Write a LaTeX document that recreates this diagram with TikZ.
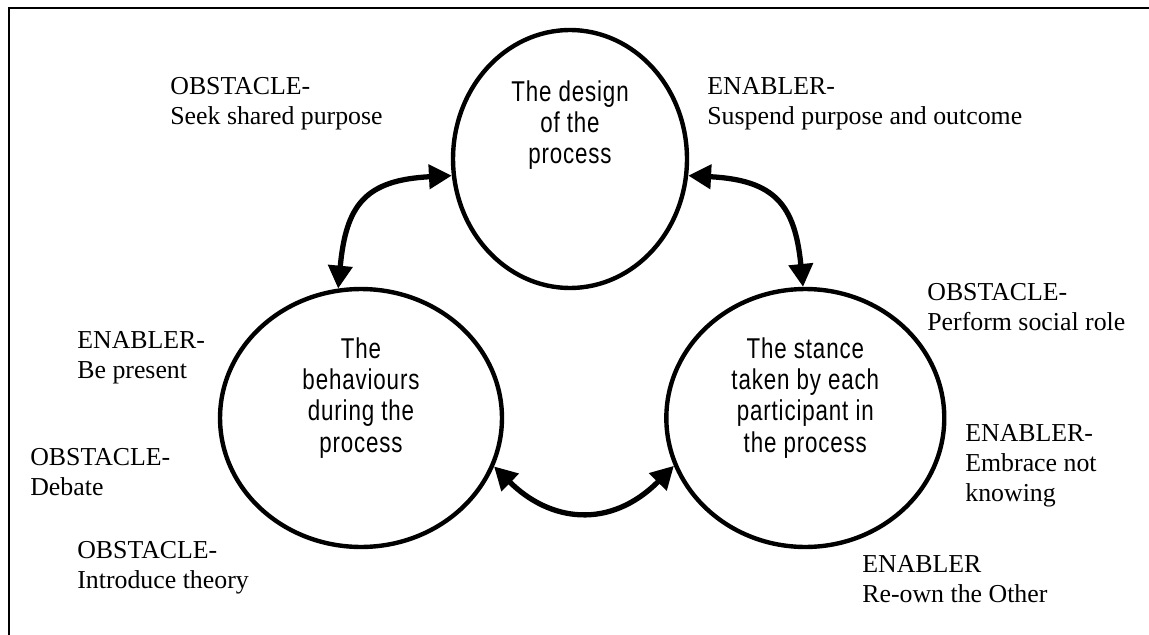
\documentclass[tikz,border=0pt]{standalone}
\usepackage{fontspec}
\setmainfont{Liberation Serif}
\newfontfamily\ringfont[FakeStretch=0.78,LetterSpace=3]{Liberation Sans}
\usepackage{tikz}
\usetikzlibrary{shapes.geometric,arrows.meta,positioning,calc}

\begin{document}
\begin{tikzpicture}[x=0.02cm, y=-0.02cm, >={Triangle[length=13pt,width=13.5pt]},
    ring/.style={draw=black, line width=2.5pt, ellipse, inner sep=0pt, minimum height=5.16cm},
    ringtext/.style={align=center, inner sep=0pt, font=\ringfont\fontsize{16.3}{17.7}\selectfont},
    note/.style={anchor=north west, align=left, inner sep=0pt, font=\fontsize{14.7}{17.2}\selectfont},
    link/.style={<->, line width=3pt}]
    \useasboundingbox (0,0) rectangle (1149,635);
    \clip (0,0) rectangle (1149,635);
    \draw [line width=1.1pt] (9,650) -- (9,8) -- (1160,8);

    % Circles
    \node [ring, minimum width=4.68cm] (design) at (570,159) {};
    \node [ring, minimum width=5.64cm] (behaviours) at (361,418) {};
    \node [ring, minimum width=5.56cm, right=3.2cm of behaviours] (stance) {};

    \node [ringtext] (designtxt) at ([yshift=0.68cm]design.center) {The design\\of the\\process};
    \node [ringtext] (behaviourstxt) at ([yshift=0.4cm]behaviours.center) {The\\behaviours\\during the\\process};
    \node [ringtext] (stancetxt) at ([yshift=0.4cm]stance.center) {The stance\\taken by each\\participant in\\the process};

    % Obstacles and enablers
    \node [note] (seek) at (170,77) {OBSTACLE-\\Seek shared purpose};
    \node [note] (suspend) at (707,77) {ENABLER-\\Suspend purpose and outcome};
    \node [note] (perform) at (927,283) {OBSTACLE-\\Perform social role};
    \node [note] (embrace) at (965,424) {ENABLER-\\Embrace not\\knowing};
    \node [note] (reown) at (862,555) {ENABLER\\Re-own the Other};
    \node [note] (present) at (77,331) {ENABLER-\\Be present};
    \node [note] (debate) at (30,448) {OBSTACLE-\\Debate};
    \node [note] (theory) at (77,541) {OBSTACLE-\\Introduce theory};

    % Two-way links
    \draw [link] (behaviours.100) .. controls (346,205) and (365,180) .. (design.188);
    \draw [link] (design.352) .. controls (775,180) and (795,205) .. (stance.91);
    \draw [link] (behaviours.340) .. controls (550,522) and (610,530) .. (stance.200);
\end{tikzpicture}
\end{document}
